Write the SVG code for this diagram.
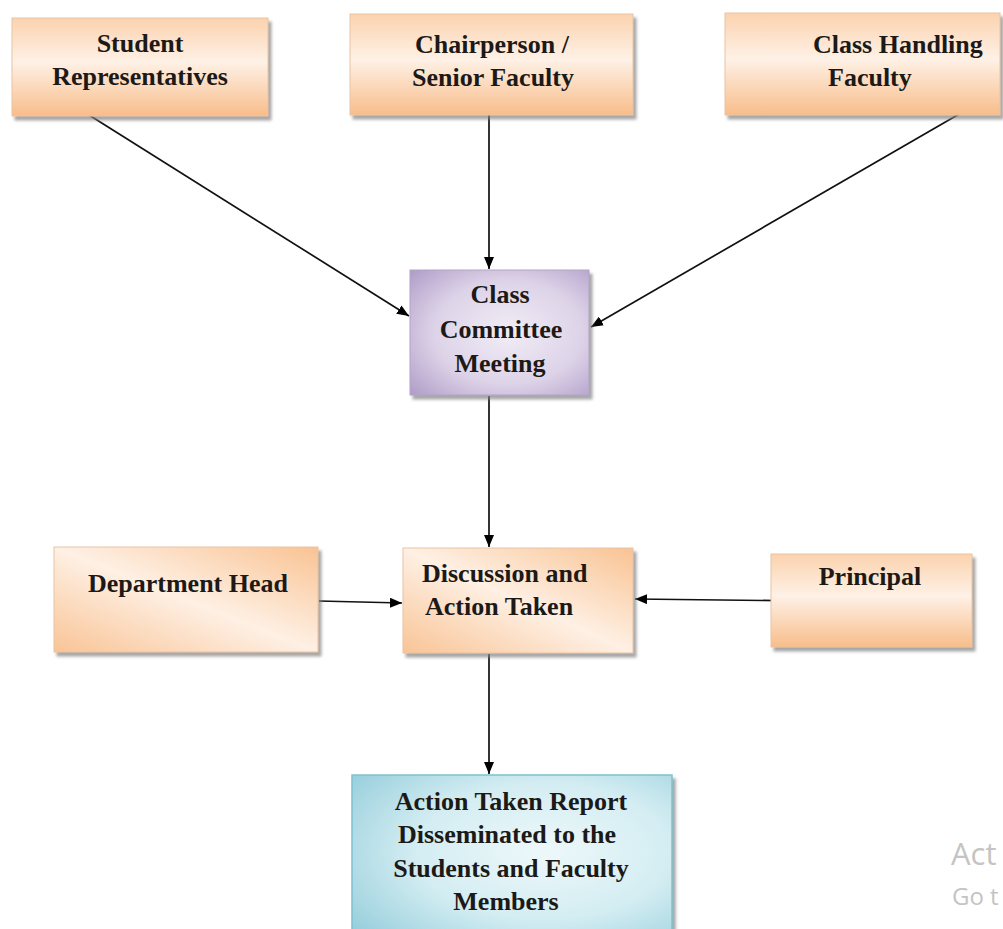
<svg xmlns="http://www.w3.org/2000/svg" width="1003" height="929" viewBox="0 0 1003 929">
<defs>
<linearGradient id="orange" x1="0" y1="0" x2="0" y2="1">
<stop offset="0" stop-color="#fbd2ae"/>
<stop offset="0.45" stop-color="#fef1e6"/>
<stop offset="1" stop-color="#f8bd8a"/>
</linearGradient>
<linearGradient id="orangeDiag" x1="0" y1="1" x2="1" y2="0">
<stop offset="0" stop-color="#f9c496"/>
<stop offset="0.5" stop-color="#fef0e4"/>
<stop offset="1" stop-color="#f9c393"/>
</linearGradient>
<radialGradient id="purple" cx="0.55" cy="0.5" r="0.75">
<stop offset="0" stop-color="#f1edf6"/>
<stop offset="0.55" stop-color="#ddd3e8"/>
<stop offset="1" stop-color="#ae9ac6"/>
</radialGradient>
<radialGradient id="blue" cx="0.6" cy="0.45" r="0.8">
<stop offset="0" stop-color="#eef8fa"/>
<stop offset="0.5" stop-color="#d3edf2"/>
<stop offset="1" stop-color="#8fcad9"/>
</radialGradient>
<filter id="shadow" x="-5%" y="-5%" width="115%" height="120%">
<feDropShadow dx="3" dy="4" stdDeviation="1.5" flood-color="#808080" flood-opacity="0.7"/>
</filter>
<marker id="arrow" viewBox="0 0 12 10" refX="12" refY="5" markerWidth="12" markerHeight="10" markerUnits="userSpaceOnUse" orient="auto">
<path d="M0,0 L12,5 L0,10 z" fill="#000"/>
</marker>
<style>
.box{stroke:#e9c3a3;stroke-width:1;filter:url(#shadow)}
.lbl{font-family:"Liberation Serif","Times New Roman",serif;font-weight:bold;font-size:26px;fill:#1c1917}
.c{text-anchor:middle}
.conn line{stroke:#111;stroke-width:1.7;marker-end:url(#arrow)}
.wm{font-family:"Open Sans","Noto Sans",sans-serif;fill:#c4c4c4}
</style>
</defs>
<rect width="1003" height="929" fill="#ffffff"/>

<g id="connectors" class="conn">
<line x1="89" y1="115" x2="409" y2="316"/>
<line x1="489" y1="115" x2="489" y2="269"/>
<line x1="961" y1="113" x2="591" y2="327"/>
<line x1="489" y1="396" x2="489" y2="547"/>
<line x1="319" y1="601" x2="402" y2="603"/>
<line x1="808" y1="601" x2="635" y2="599"/>
<line x1="489" y1="654" x2="489" y2="774"/>
</g>

<g id="student-representatives">
<rect class="box" x="12" y="18" width="256" height="98" fill="url(#orange)"/>
<text class="lbl c" x="140" y="52">Student</text>
<text class="lbl c" x="140" y="85">Representatives</text>
</g>

<g id="chairperson">
<rect class="box" x="350" y="14" width="283" height="101" fill="url(#orange)"/>
<text class="lbl c" x="492" y="53">Chairperson /</text>
<text class="lbl c" x="493" y="86">Senior Faculty</text>
</g>

<g id="class-handling-faculty">
<rect class="box" x="725" y="13" width="275" height="102" fill="url(#orange)"/>
<text class="lbl" x="813" y="53">Class Handling</text>
<text class="lbl" x="828" y="86">Faculty</text>
</g>

<g id="class-committee-meeting">
<rect x="410" y="270" width="179" height="125" fill="url(#purple)" stroke="#b3a3c8" stroke-width="1" filter="url(#shadow)"/>
<text class="lbl c" x="500" y="303">Class</text>
<text class="lbl c" x="501" y="338">Committee</text>
<text class="lbl c" x="500" y="372">Meeting</text>
</g>

<g id="department-head">
<rect class="box" x="54" y="547" width="264" height="105" fill="url(#orangeDiag)"/>
<text class="lbl c" x="188" y="592">Department Head</text>
</g>

<g id="discussion-action-taken">
<rect class="box" x="403" y="548" width="230" height="105" fill="url(#orangeDiag)"/>
<text class="lbl" x="422" y="582">Discussion and</text>
<text class="lbl" x="425" y="615">Action Taken</text>
</g>

<g id="principal">
<rect class="box" x="771" y="554" width="201" height="93" fill="url(#orange)"/>
<text class="lbl c" x="870" y="585">Principal</text>
</g>

<g id="action-taken-report">
<rect x="352" y="775" width="320" height="170" fill="url(#blue)" stroke="#7fc1d1" stroke-width="1.5" filter="url(#shadow)"/>
<text class="lbl c" x="511" y="810">Action Taken Report</text>
<text class="lbl c" x="507" y="843">Disseminated to the</text>
<text class="lbl c" x="511" y="877">Students and Faculty</text>
<text class="lbl c" x="506" y="910">Members</text>
</g>

<g id="watermark">
<text class="wm" x="951" y="865" font-size="31">Act</text>
<text class="wm" x="952" y="905" font-size="24">Go t</text>
</g>
</svg>
